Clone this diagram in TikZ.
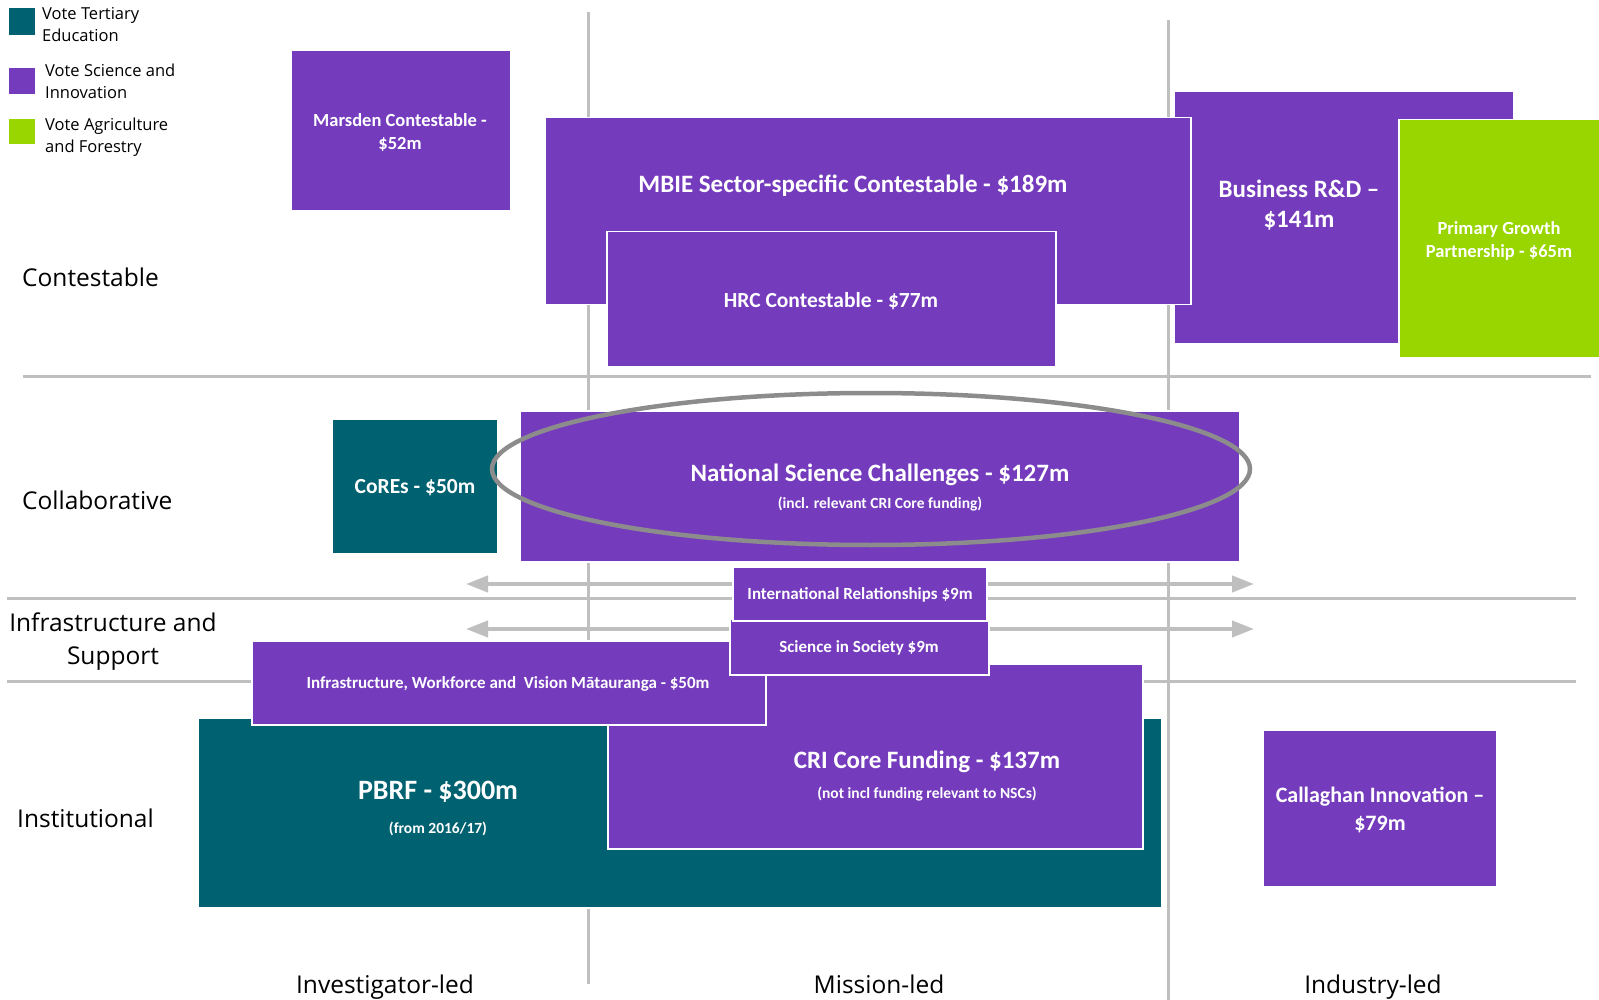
\documentclass[tikz,border=0pt]{standalone}
\usepackage{fontspec}
\setmainfont{Carlito}
\newfontfamily\osans{Open Sans}
\usetikzlibrary{arrows.meta}
\definecolor{vpurple}{RGB}{117,59,189}
\definecolor{vteal}{RGB}{0,97,112}
\definecolor{vgreen}{RGB}{153,214,0}
\definecolor{gridgray}{RGB}{191,191,191}
\definecolor{ellgray}{RGB}{140,140,140}
\newcommand{\fsz}[2]{\fontsize{#1}{#2}\selectfont}
\begin{document}
\begin{tikzpicture}[x=1pt,y=-1pt,
  box/.style={draw=white, line width=1.5pt, inner sep=0pt, anchor=north west},
  pbox/.style={box, fill=vpurple},
  tbox/.style={box, fill=vteal},
  gbox/.style={box, fill=vgreen},
  txt/.style={text=white, font=\bfseries, align=center, inner sep=0pt},
  rowlab/.style={font=\osans\fsz{24.5}{33}, align=center, inner sep=0pt},
  leg/.style={font=\osans\fsz{16.5}{22}, align=left, anchor=west, inner sep=0pt},
  gline/.style={draw=gridgray, line width=3pt},
  garrow/.style={draw=gridgray, line width=4pt, {Triangle[length=22pt,width=16pt]}-{Triangle[length=22pt,width=16pt]}}
]
\useasboundingbox (0,0) rectangle (1599,1000);

% grid
\coordinate (v1t) at (588,12);  \coordinate (v1b) at (588,984);
\coordinate (v2t) at (1168,20); \coordinate (v2b) at (1168,1000);
\coordinate (h1l) at (23,377);  \coordinate (h1r) at (1591,377);
\coordinate (h2l) at (7,598);   \coordinate (h2r) at (1576,598);
\coordinate (h3l) at (7,681);   \coordinate (h3r) at (1576,681);
\draw[gline] (v1t) -- (v1b);
\draw[gline] (v2t) -- (v2b);
\draw[gline] (h1l) -- (h1r);
\draw[gline] (h2l) -- (h2r);
\draw[gline] (h3l) -- (h3r);

% arrows
\coordinate (a1l) at (466,584); \coordinate (a1r) at (1254,584);
\coordinate (a2l) at (466,629); \coordinate (a2r) at (1254,629);
\draw[garrow] (a1l) -- (a1r);
\draw[garrow] (a2l) -- (a2r);

% legend
\node[tbox, minimum width=27pt, minimum height=28pt, line width=0.6pt] (lt) at (8,7) {};
\node[pbox, minimum width=27pt, minimum height=27pt, line width=0.6pt] (lp) at (8,67) {};
\node[gbox, minimum width=27pt, minimum height=26pt, line width=0.6pt] (lg) at (8,118) {};
\node[leg] (ltt) at (42,25) {Vote Tertiary\\Education};
\node[leg] (lpt) at (45,81.5) {Vote Science and\\Innovation};
\node[leg] (lgt) at (45,137.5) {Vote Agriculture\\and Forestry};

% row labels
\node[rowlab, anchor=west] (rc) at (22,277) {Contestable};
\node[rowlab, anchor=west] (rcol) at (22,500) {Collaborative};
\node[rowlab] (ris) at (113,641.5) {Infrastructure and\\Support};
\node[rowlab, anchor=west] (rin) at (17,818) {Institutional};

% column labels
\node[rowlab, anchor=base] (ci) at (385,993) {Investigator-led};
\node[rowlab, anchor=base] (cm) at (879,993) {Mission-led};
\node[rowlab, anchor=base] (cind) at (1373,993) {Industry-led};

% contestable boxes
\node[pbox, minimum width=220pt, minimum height=160pt] (mars) at (290,50) {};
\node[pbox, minimum width=340pt, minimum height=252pt] (brd) at (1173,91) {};
\node[gbox, minimum width=201pt, minimum height=238pt] (pgp) at (1398,119) {};
\node[pbox, minimum width=646pt, minimum height=187pt] (mbie) at (544,117) {};
\node[pbox, minimum width=449pt, minimum height=135pt] (hrc) at (606,231) {};

% collaborative
\node[tbox, minimum width=166pt, minimum height=135pt] (cores) at (331,418) {};
\node[pbox, minimum width=720pt, minimum height=151pt] (nsc) at (519,410) {};
\draw[draw=ellgray, line width=4.5pt] (871,469) ellipse [x radius=379pt, y radius=76pt];

% institutional
\node[tbox, minimum width=964pt, minimum height=190pt] (pbrf) at (197,717) {};
\node[pbox, minimum width=535pt, minimum height=185pt] (cri) at (607,663) {};
\node[pbox, minimum width=514pt, minimum height=84pt] (infra) at (251,640) {};
\node[pbox, minimum width=259pt, minimum height=56pt] (sis) at (729,618) {};
\node[pbox, minimum width=254pt, minimum height=54pt] (ir) at (732,566) {};
\node[pbox, minimum width=234pt, minimum height=157pt] (cal) at (1262,729) {};

% texts
\node[txt, font=\bfseries\fsz{18.5}{23}] (marst) at (400,132) {Marsden Contestable -\\\$52m};
\node[txt, font=\bfseries\fsz{25}{30}] (mbiet) at (853,186) {MBIE Sector-specific Contestable - \$189m};
\node[txt, font=\bfseries\fsz{21.5}{26}] (hrct) at (831,301) {HRC Contestable - \$77m};
\node[txt, font=\bfseries\fsz{25}{29.5}] (brdt) at (1299,205) {Business R\&D --\\\$141m};
\node[txt, font=\bfseries\fsz{18.5}{23.5}] (pgpt) at (1499,241) {Primary Growth\\Partnership - \$65m};
\node[txt, font=\bfseries\fsz{21.5}{26}] (corest) at (415,488) {CoREs - \$50m};
\node[txt, font=\bfseries\fsz{25}{30}] (nsct) at (880,475) {National Science Challenges - \$127m};
\node[txt, font=\bfseries\fsz{15.5}{19}] (nscs) at (880,504) {(incl. relevant CRI Core funding)};
\node[txt, font=\bfseries\fsz{17}{20}] (irt) at (860,595) {International Relationships \$9m};
\node[txt, font=\bfseries\fsz{17}{20}] (sist) at (859,648) {Science in Society \$9m};
\node[txt, font=\bfseries\fsz{17}{20}] (infrat) at (508,684) {Infrastructure, Workforce and\ \ Vision Mātauranga - \$50m};
\node[txt, font=\bfseries\fsz{28}{32}] (pbrft) at (438,792) {PBRF - \$300m};
\node[txt, font=\bfseries\fsz{15.5}{19}] (pbrfs) at (438,829) {(from 2016/17)};
\node[txt, font=\bfseries\fsz{25}{30}] (crit) at (927,762) {CRI Core Funding - \$137m};
\node[txt, font=\bfseries\fsz{15.5}{19}] (cris) at (927,794) {(not incl funding relevant to NSCs)};
\node[txt, font=\bfseries\fsz{22}{28}] (calt) at (1380,810) {Callaghan Innovation --\\\$79m};
\end{tikzpicture}
\end{document}
